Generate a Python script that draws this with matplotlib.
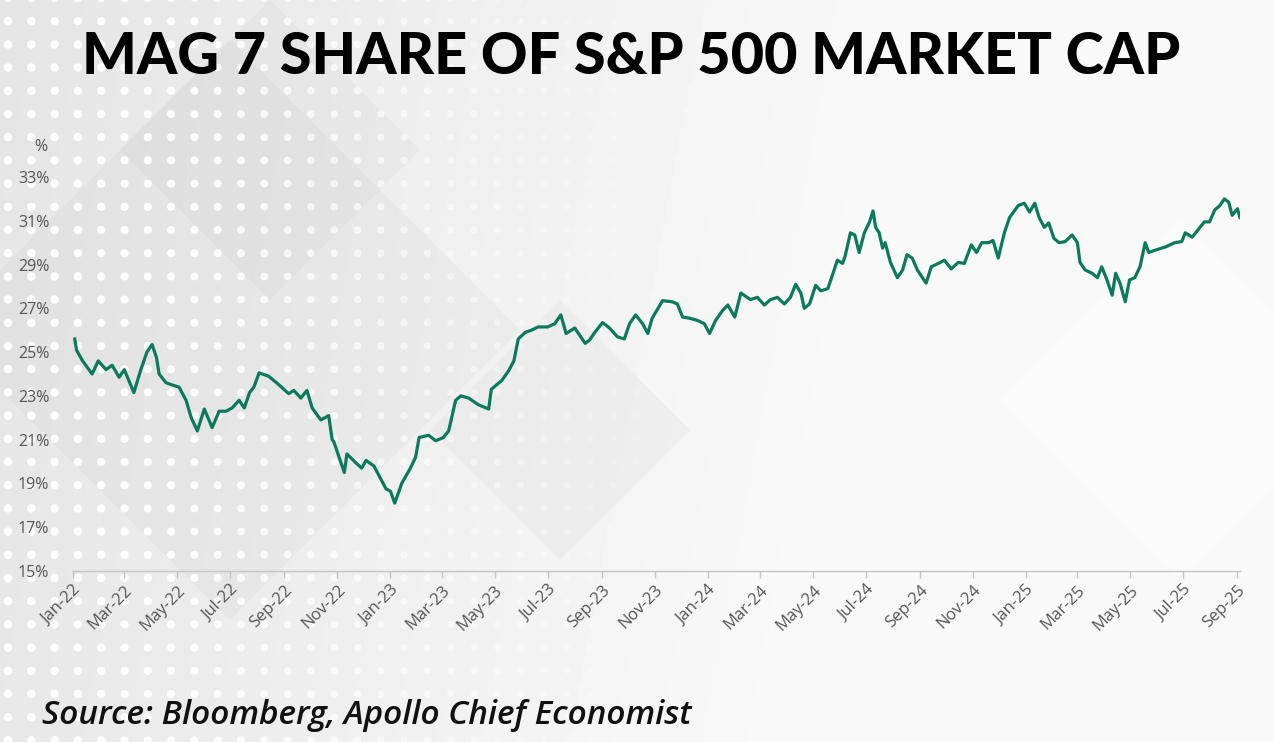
import numpy as np
import pandas as pd
import matplotlib
matplotlib.use("Agg")
import matplotlib.pyplot as plt
import matplotlib.dates as mdates
from matplotlib.patches import Polygon

# valores (% do market cap do S&P 500)
datas = [
    "2022-01-03", "2022-01-05", "2022-01-12", "2022-01-23", "2022-01-30", "2022-02-08",
    "2022-02-15", "2022-02-23", "2022-03-01", "2022-03-12", "2022-03-20", "2022-03-27",
    "2022-04-02", "2022-04-07", "2022-04-10", "2022-04-18", "2022-04-25", "2022-05-03",
    "2022-05-11", "2022-05-17", "2022-05-24", "2022-06-01", "2022-06-10", "2022-06-18",
    "2022-06-26", "2022-07-03", "2022-07-11", "2022-07-17", "2022-07-23", "2022-07-28",
    "2022-08-03", "2022-08-14", "2022-08-26", "2022-09-06", "2022-09-12", "2022-09-20",
    "2022-09-27", "2022-10-03", "2022-10-13", "2022-10-22", "2022-10-26", "2022-10-28",
    "2022-11-09", "2022-11-12", "2022-11-22", "2022-11-29", "2022-12-04", "2022-12-13",
    "2022-12-27", "2023-01-01", "2023-01-06", "2023-01-14", "2023-01-24", "2023-01-30",
    "2023-02-03", "2023-02-14", "2023-02-22", "2023-03-03", "2023-03-09", "2023-03-17",
    "2023-03-23", "2023-04-01", "2023-04-12", "2023-04-24", "2023-04-27", "2023-05-09",
    "2023-05-17", "2023-05-23", "2023-05-28", "2023-06-05", "2023-06-12", "2023-06-20",
    "2023-07-01", "2023-07-09", "2023-07-16", "2023-07-22", "2023-08-01", "2023-08-13",
    "2023-08-18", "2023-08-24", "2023-09-02", "2023-09-10", "2023-09-19", "2023-09-27",
    "2023-10-03", "2023-10-10", "2023-10-18", "2023-10-24", "2023-10-29", "2023-11-10",
    "2023-11-21", "2023-11-27", "2023-12-03", "2023-12-11", "2023-12-20", "2023-12-28",
    "2024-01-03", "2024-01-10", "2024-01-18", "2024-01-24", "2024-02-01", "2024-02-08",
    "2024-02-19", "2024-02-27", "2024-03-06", "2024-03-13", "2024-03-21", "2024-03-29",
    "2024-04-05", "2024-04-11", "2024-04-17", "2024-04-21", "2024-04-27", "2024-05-04",
    "2024-05-10", "2024-05-18", "2024-05-24", "2024-05-29", "2024-06-04", "2024-06-07",
    "2024-06-13", "2024-06-18", "2024-06-23", "2024-06-29", "2024-07-05", "2024-07-09",
    "2024-07-12", "2024-07-16", "2024-07-20", "2024-07-23", "2024-07-29", "2024-08-06",
    "2024-08-12", "2024-08-17", "2024-08-23", "2024-08-29", "2024-09-08", "2024-09-14",
    "2024-09-22", "2024-09-29", "2024-10-07", "2024-10-15", "2024-10-22", "2024-10-30",
    "2024-11-05", "2024-11-11", "2024-11-19", "2024-11-24", "2024-11-30", "2024-12-07",
    "2024-12-13", "2024-12-23", "2024-12-30", "2025-01-05", "2025-01-11", "2025-01-16",
    "2025-01-22", "2025-01-27", "2025-02-02", "2025-02-08", "2025-02-15", "2025-02-23",
    "2025-03-01", "2025-03-04", "2025-03-10", "2025-03-18", "2025-03-24", "2025-03-29",
    "2025-04-04", "2025-04-10", "2025-04-14", "2025-04-19", "2025-04-25", "2025-04-30",
    "2025-05-06", "2025-05-12", "2025-05-18", "2025-05-22", "2025-05-29", "2025-06-10",
    "2025-06-21", "2025-06-29", "2025-07-03", "2025-07-11", "2025-07-19", "2025-07-25",
    "2025-07-31", "2025-08-06", "2025-08-12", "2025-08-17", "2025-08-22", "2025-08-26",
    "2025-09-01", "2025-09-04",
]
share = [
    25.6, 25.1, 24.6, 24.0, 24.6, 24.2,
    24.4, 23.85, 24.2, 23.15, 24.2, 25.0,
    25.35, 24.75, 24.0, 23.6, 23.5, 23.4,
    22.8, 22.0, 21.4, 22.4, 21.55, 22.3,
    22.3, 22.45, 22.8, 22.45, 23.15, 23.4,
    24.05, 23.9, 23.5, 23.1, 23.25, 22.9,
    23.25, 22.45, 21.9, 22.1, 21.0, 20.9,
    19.5, 20.35, 19.95, 19.7, 20.05, 19.8,
    18.75, 18.65, 18.1, 19.0, 19.7, 20.2,
    21.1, 21.2, 20.95, 21.1, 21.4, 22.8,
    23.0, 22.9, 22.6, 22.4, 23.3, 23.7,
    24.15, 24.6, 25.6, 25.9, 26.0, 26.15,
    26.15, 26.3, 26.7, 25.85, 26.1, 25.4,
    25.55, 25.9, 26.35, 26.1, 25.7, 25.6,
    26.3, 26.7, 26.3, 25.85, 26.55, 27.35,
    27.3, 27.2, 26.6, 26.55, 26.45, 26.3,
    25.85, 26.45, 26.9, 27.15, 26.6, 27.7,
    27.4, 27.5, 27.15, 27.4, 27.5, 27.2,
    27.5, 28.1, 27.7, 27.0, 27.2, 28.05,
    27.8, 27.9, 28.6, 29.2, 29.05, 29.4,
    30.45, 30.35, 29.55, 30.45, 30.95, 31.45,
    30.7, 30.45, 29.75, 30.0, 29.1, 28.4,
    28.75, 29.45, 29.3, 28.75, 28.15, 28.9,
    29.05, 29.2, 28.8, 29.1, 29.05, 29.9,
    29.55, 30.0, 30.0, 30.1, 29.3, 30.45,
    31.15, 31.7, 31.8, 31.4, 31.8, 31.15,
    30.7, 30.9, 30.2, 30.0, 30.05, 30.35,
    30.0, 29.1, 28.75, 28.6, 28.4, 28.9,
    28.3, 27.6, 28.6, 28.15, 27.3, 28.3,
    28.4, 28.9, 30.0, 29.55, 29.65, 29.8,
    30.0, 30.05, 30.45, 30.25, 30.65, 30.95,
    30.95, 31.5, 31.7, 32.0, 31.85, 31.25,
    31.55, 31.15,
]
y_ticks = [15, 17, 19, 21, 23, 25, 27, 29, 31, 33]
titulo = "MAG 7 SHARE OF S&P 500 MARKET CAP"
fonte = "Source: Bloomberg, Apollo Chief Economist"

W, H = 1274, 742
fig = plt.figure(figsize=(W / 100, H / 100), dpi=100)

# fundo: degrade cinza + pontos brancos
bg = fig.add_axes([0, 0, 1, 1], zorder=0)
bg.set_xlim(0, W)
bg.set_ylim(H, 0)
bg.axis("off")
gx = np.linspace(0, 1, 300)
gy = np.linspace(0, 1, 200)
GX, GY = np.meshgrid(gx, gy)
grad = 0.895 + 0.08 * np.clip(GX * 1.4 + GY * 0.15, 0, 1)
bg.imshow(grad, cmap="gray", vmin=0, vmax=1, extent=(0, W, H, 0), aspect="auto")

diamantes = [
    [(-60, 330), (230, 40), (520, 330), (230, 620)],
    [(120, 150), (270, 0), (420, 150), (270, 300)],
    [(430, 430), (560, 300), (690, 430), (560, 560)],
]
for d in diamantes:
    bg.add_patch(Polygon(d, closed=True, facecolor="#bdbdbd", alpha=0.11, lw=0))
bg.add_patch(Polygon([(1000, 400), (1180, 220), (1360, 400), (1180, 580)],
                     closed=True, facecolor="#ffffff", alpha=0.35, lw=0))

px = np.arange(8, 760, 23.3)
py = np.arange(-2, 760, 23.2)
PX, PY = np.meshgrid(px, py)
PX = PX.ravel()
PY = PY.ravel()
fade = np.clip(1.05 - PX / 680, 0, 1)
cols = np.ones((len(PX), 4))
cols[:, 3] = np.clip(fade * 1.2, 0, 0.95)
bg.scatter(PX, PY, s=38 * (0.5 + 0.5 * fade), c=cols, linewidths=0, zorder=2)

# grafico principal
ax = fig.add_axes([73 / W, 1 - 571 / H, (1240 - 73) / W, (571 - 177) / H], zorder=2)
ax.patch.set_alpha(0)
x = pd.to_datetime(datas)
ax.plot(x, share, color="#0b7a5a", lw=2.3, solid_joinstyle="round")
ax.set_xlim(pd.Timestamp("2022-01-01"), pd.Timestamp("2025-09-04"))
ax.set_ylim(15, 33)

ax.set_yticks(y_ticks)
ax.set_yticklabels([f"{v}%" for v in y_ticks])
ax.xaxis.set_major_locator(mdates.MonthLocator(bymonth=[1, 3, 5, 7, 9, 11]))
ax.xaxis.set_major_formatter(mdates.DateFormatter("%b-%y"))

for s in ["top", "right", "left"]:
    ax.spines[s].set_visible(False)
ax.spines["bottom"].set_color("#c4c4c4")
ax.spines["bottom"].set_linewidth(1.0)
ax.tick_params(axis="y", length=0, pad=17, labelsize=11.5, labelcolor="#555555")
ax.tick_params(axis="x", length=5, width=1, color="#c4c4c4", pad=3,
               labelsize=12, labelcolor="#555555")
for lab in ax.get_yticklabels() + ax.get_xticklabels():
    lab.set_family("Open Sans")
plt.setp(ax.get_xticklabels(), rotation=45, ha="right", va="top",
         rotation_mode="anchor")
ax.text(-0.022, 1.075, "%", transform=ax.transAxes, ha="right", va="center",
        fontsize=11.5, color="#555555", family="Open Sans")

fig.text(631 / W, 1 - 58 / H, titulo, ha="center", va="center",
         fontsize=41.5, fontweight="black", family="Lato", color="black")
fig.text(42 / W, 1 - 715 / H, fonte, ha="left", va="center", fontsize=24,
         style="italic", fontweight="semibold", family="Open Sans", color="#111111")

fig.savefig("out.png", dpi=100)
